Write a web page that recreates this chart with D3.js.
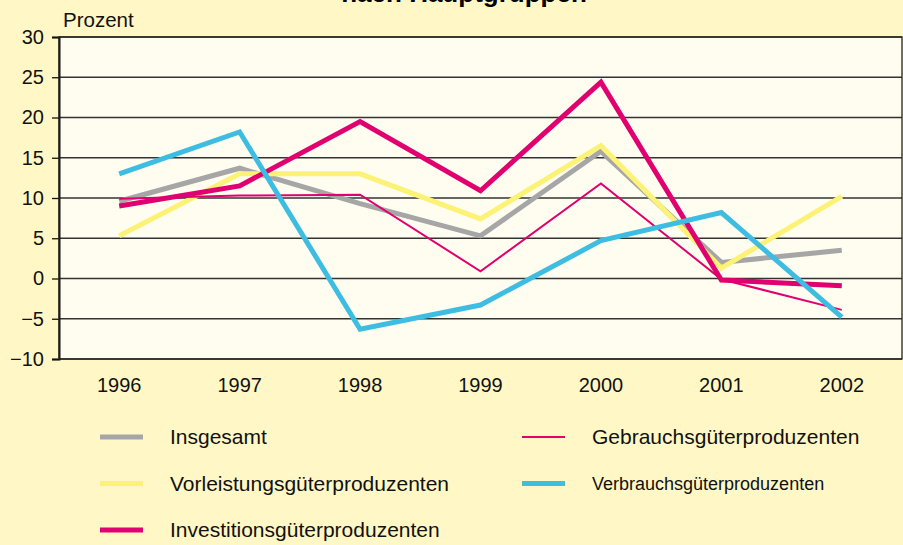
<!DOCTYPE html>
<html>
<head>
<meta charset="utf-8">
<script src="https://cdn.jsdelivr.net/npm/d3@7"></script>
<style>
  body { margin: 0; background: #fff8c6; }
  svg { display: block; font-family: "Liberation Sans", Arial, sans-serif; }
</style>
</head>
<body>
<svg id="chart" width="903" height="545"></svg>
<script>
// years on the x axis
const years = ["1996", "1997", "1998", "1999", "2000", "2001", "2002"];

// series values (Prozent)
const insgesamt = [9.6, 13.7, 9.3, 5.3, 15.8, 2.0, 3.5];
const vorleistung = [5.3, 13.0, 13.0, 7.4, 16.5, 1.3, 10.2];
const investition = [9.0, 11.5, 19.5, 10.9, 24.4, -0.2, -0.9];
const gebrauch = [9.9, 10.3, 10.4, 0.9, 11.8, -0.1, -3.9];
const verbrauch = [13.0, 18.2, -6.3, -3.3, 4.7, 8.2, -4.8];

const yTicks = [-10, -5, 0, 5, 10, 15, 20, 25, 30];

const series = [
  { name: "Insgesamt", values: insgesamt, color: "#a6a6a6", width: 5, font: 21, col: 0, row: 0 },
  { name: "Vorleistungsgüterproduzenten", values: vorleistung, color: "#fcf276", width: 5, font: 21, col: 0, row: 1 },
  { name: "Investitionsgüterproduzenten", values: investition, color: "#e0006f", width: 5, font: 21, col: 0, row: 2 },
  { name: "Gebrauchsgüterproduzenten", values: gebrauch, color: "#e0006f", width: 2, font: 21, col: 1, row: 0 },
  { name: "Verbrauchsgüterproduzenten", values: verbrauch, color: "#3dbde2", width: 5, font: 18, col: 1, row: 1 }
];

const svg = d3.select("#chart");
const margin = { left: 59, right: 1, top: 37, bottom: 186 };
const width = 903 - margin.left - margin.right;
const height = 545 - margin.top - margin.bottom;

const g = svg.append("g").attr("transform", `translate(${margin.left},${margin.top})`);

const xScale = d3.scaleBand().domain(years).range([0, width]);
const yScale = d3.scaleLinear().domain([-10, 30]).range([height, 0]);

// title (only the last line is visible)
svg.append("text")
  .attr("x", 464).attr("y", 2)
  .attr("text-anchor", "middle")
  .attr("font-weight", "bold")
  .attr("font-size", 26)
  .text("nach Hauptgruppen");

svg.append("text")
  .attr("x", 63).attr("y", 27)
  .attr("font-size", 20.5)
  .attr("fill", "#111")
  .text("Prozent");

// plot background
g.append("rect")
  .attr("width", width).attr("height", height)
  .attr("fill", "#fffdf0");

// gridlines
g.selectAll("line.grid")
  .data(yTicks)
  .join("line")
  .attr("class", "grid")
  .attr("x1", 0).attr("x2", width)
  .attr("y1", d => yScale(d)).attr("y2", d => yScale(d))
  .attr("stroke", "#333")
  .attr("stroke-width", 1.3);

// y axis
const yAxis = g.append("g")
  .call(d3.axisLeft(yScale).tickValues(yTicks).tickSize(7).tickPadding(8));
yAxis.select(".domain").attr("stroke", "#111").attr("stroke-width", 2);
yAxis.selectAll(".tick line").attr("stroke", "#111").attr("stroke-width", 1.3);
yAxis.selectAll(".tick text")
  .attr("font-size", 20)
  .attr("font-family", "Liberation Sans, Arial, sans-serif")
  .attr("fill", "#111");

// x labels
g.selectAll("text.year")
  .data(years)
  .join("text")
  .attr("class", "year")
  .attr("x", d => xScale(d) + xScale.bandwidth() / 2)
  .attr("y", height + 33)
  .attr("text-anchor", "middle")
  .attr("font-size", 20)
  .attr("fill", "#111")
  .text(d => d);

// plot border
g.append("rect")
  .attr("width", width).attr("height", height)
  .attr("fill", "none")
  .attr("stroke", "#222")
  .attr("stroke-width", 1.3);

const line = d3.line()
  .x((d, i) => xScale(years[i]) + xScale.bandwidth() / 2)
  .y(d => yScale(d));

g.selectAll("path.series")
  .data(series)
  .join("path")
  .attr("class", "series")
  .attr("d", d => line(d.values))
  .attr("fill", "none")
  .attr("stroke", d => d.color)
  .attr("stroke-width", d => d.width)
  .attr("stroke-linejoin", "miter");

// legend
const legend = svg.append("g");
const items = legend.selectAll("g")
  .data(series)
  .join("g")
  .attr("transform", d => `translate(${d.col === 0 ? 100 : 522},${437 + d.row * 46.5})`);

items.append("line")
  .attr("x1", 0).attr("x2", 43)
  .attr("stroke", d => d.color)
  .attr("stroke-width", d => d.width);

items.append("text")
  .attr("x", 70)
  .attr("dy", "0.35em")
  .attr("font-size", d => d.font)
  .attr("fill", "#111")
  .text(d => d.name);
</script>
</body>
</html>
